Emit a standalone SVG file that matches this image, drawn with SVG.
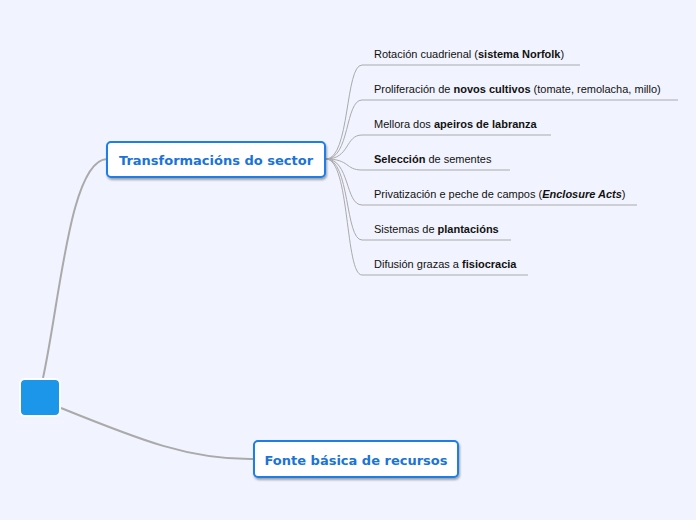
<svg xmlns="http://www.w3.org/2000/svg" width="696" height="520" viewBox="0 0 696 520">
<style>
.leaf{font-family:"Liberation Sans",Arial,sans-serif;font-size:11px;fill:#111}
.b{font-weight:bold}
.node rect{fill:#fff;stroke:#1a7ee6;stroke-width:2}
.node text{font-family:"DejaVu Sans",Verdana,sans-serif;font-size:13px;font-weight:bold;fill:#1a73d9;text-anchor:middle}
.c{fill:none;stroke:#aaa;stroke-width:1}
.m{fill:none;stroke:#aaa;stroke-width:2}
</style>
<defs><filter id="sh" x="-10%" y="-10%" width="120%" height="140%"><feDropShadow dx="1" dy="2" stdDeviation="1" flood-color="#000" flood-opacity="0.35"/></filter></defs>
<rect width="696" height="520" fill="#f1f4fe"/>
<g id="connectors">
<path class="m" d="M43,378 C60,300 70,160 107,159"/>
<path class="m" d="M61,408 C140,440 190,460 254,459" stroke-width="1.5"/>
<path class="c" d="M326,159 C350,159 345,65 362,65 H580"/>
<path class="c" d="M326,159 C350,159 345,100 362,100 H678"/>
<path class="c" d="M326,159 C350,159 345,135 362,135 H551"/>
<path class="c" d="M326,159 C350,159 345,170 362,170 H510"/>
<path class="c" d="M326,159 C350,159 345,205 362,205 H637"/>
<path class="c" d="M326,159 C350,159 345,240 362,240 H511"/>
<path class="c" d="M326,159 C350,159 345,275 362,275 H528"/>
</g>
<g id="root"><rect x="20" y="379" width="40" height="37" rx="5" fill="#1b96e8" stroke="#fff" stroke-width="2"/></g>
<g id="n1" class="node"><rect x="107" y="142" width="218" height="35" rx="4" filter="url(#sh)"/><text x="216" y="165">Transformacións do sector</text></g>
<g id="n2" class="node"><rect x="254" y="441" width="204" height="36" rx="4" filter="url(#sh)"/><text x="356" y="465">Fonte básica de recursos</text></g>
<g id="l1"><text class="leaf" x="374" y="58">Rotación cuadrienal (<tspan class="b">sistema Norfolk</tspan>)</text></g>
<g id="l2"><text class="leaf" x="374" y="93">Proliferación de <tspan class="b">novos cultivos</tspan> (tomate, remolacha, millo)</text></g>
<g id="l3"><text class="leaf" x="374" y="128">Mellora dos <tspan class="b">apeiros de labranza</tspan></text></g>
<g id="l4"><text class="leaf" x="374" y="163"><tspan class="b">Selección</tspan> de sementes</text></g>
<g id="l5"><text class="leaf" x="374" y="198">Privatización e peche de campos (<tspan class="b" font-style="italic">Enclosure Acts</tspan>)</text></g>
<g id="l6"><text class="leaf" x="374" y="233">Sistemas de <tspan class="b">plantacións</tspan></text></g>
<g id="l7"><text class="leaf" x="374" y="268">Difusión grazas a <tspan class="b">fisiocracia</tspan></text></g>
</svg>
